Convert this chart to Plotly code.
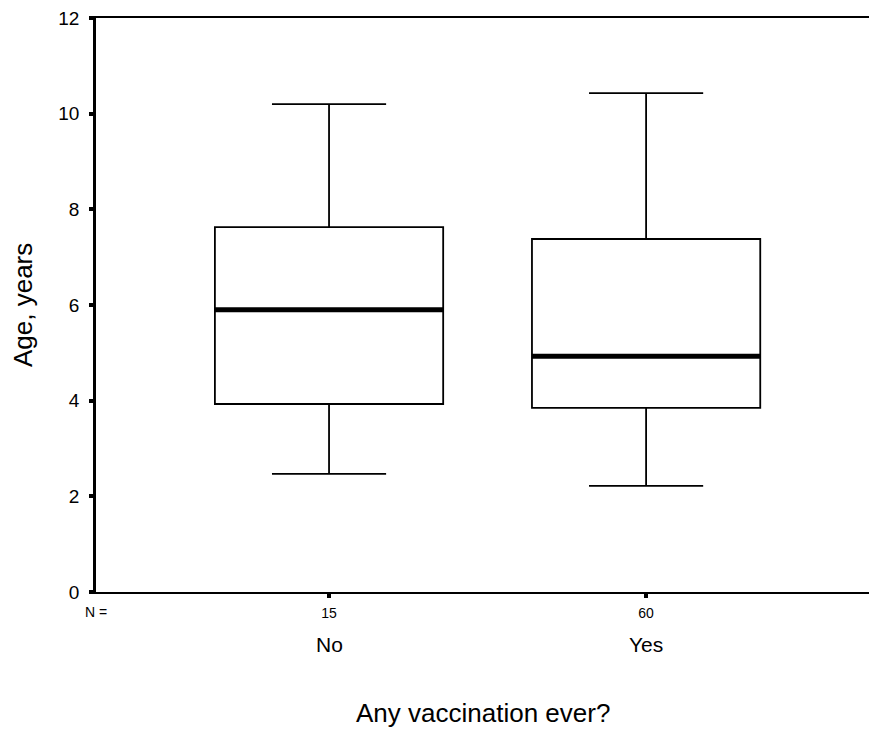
import plotly.graph_objects as go

# Data
groups = ["No", "Yes"]
counts = [15, 60]
positions = [0, 1]
lower_whisker = [2.47, 2.22]
q1 = [3.93, 3.85]
median = [5.90, 4.93]
q3 = [7.63, 7.38]
upper_whisker = [10.20, 10.43]
y_ticks = [0, 2, 4, 6, 8, 10, 12]

box_width = 0.72
FONT = "Liberation Sans, Arial, sans-serif"

fig = go.Figure()
for i, g in enumerate(groups):
    fig.add_trace(go.Box(
        x=[positions[i]], q1=[q1[i]], median=[median[i]], q3=[q3[i]],
        lowerfence=[lower_whisker[i]], upperfence=[upper_whisker[i]],
        width=box_width, whiskerwidth=0.5,
        fillcolor="white", line=dict(color="black", width=1.8),
        boxpoints=False, showlegend=False, name=g,
    ))
    fig.add_trace(go.Scatter(
        x=[positions[i] - box_width / 2, positions[i] + box_width / 2],
        y=[median[i], median[i]], mode="lines",
        line=dict(color="black", width=5), showlegend=False, hoverinfo="skip",
    ))

# group labels and N labels
for i, g in enumerate(groups):
    fig.add_annotation(x=positions[i], y=-0.0923, xref="x", yref="paper",
                       text=g, showarrow=False, font=dict(size=21, color="black", family=FONT),
                       xanchor="center", yanchor="middle")
fig.add_annotation(x=0, y=-0.035, xref="paper", yref="paper", text="N =",
                   showarrow=False, font=dict(size=14, color="black", family=FONT),
                   xanchor="center", yanchor="middle")
fig.add_annotation(x=0.5, y=-0.211, xref="paper", yref="paper", text="Any vaccination ever?",
                   showarrow=False, font=dict(size=26, color="black", family=FONT),
                   xanchor="center", yanchor="middle")
fig.add_annotation(x=-0.0944, y=0.5, xref="paper", yref="paper", text="Age, years",
                   textangle=-90, showarrow=False, font=dict(size=26, color="black", family=FONT),
                   xanchor="center", yanchor="middle")

fig.update_layout(
    width=869, height=734,
    margin=dict(l=96, r=0, t=18, b=142),
    paper_bgcolor="white", plot_bgcolor="white",
    font=dict(family=FONT, color="black"),
    xaxis=dict(
        range=[-0.735, 1.703], tickvals=positions, ticktext=[str(c) for c in counts],
        tickfont=dict(size=14, family=FONT, color="black"),
        showline=True, linecolor="black", linewidth=2, mirror=True,
        ticks="outside", ticklen=4, tickwidth=4, tickcolor="black",
        ticklabelstandoff=3,
        showgrid=False, zeroline=False,
    ),
    yaxis=dict(
        range=[0, 12], tickvals=y_ticks,
        tickfont=dict(size=19, family=FONT, color="black"),
        showline=True, linecolor="black", linewidth=2.5, mirror=False,
        ticks="outside", ticklen=4, tickwidth=4, tickcolor="black",
        ticklabelstandoff=6,
        showgrid=False, zeroline=False,
    ),
)

fig.write_html("out.html")
